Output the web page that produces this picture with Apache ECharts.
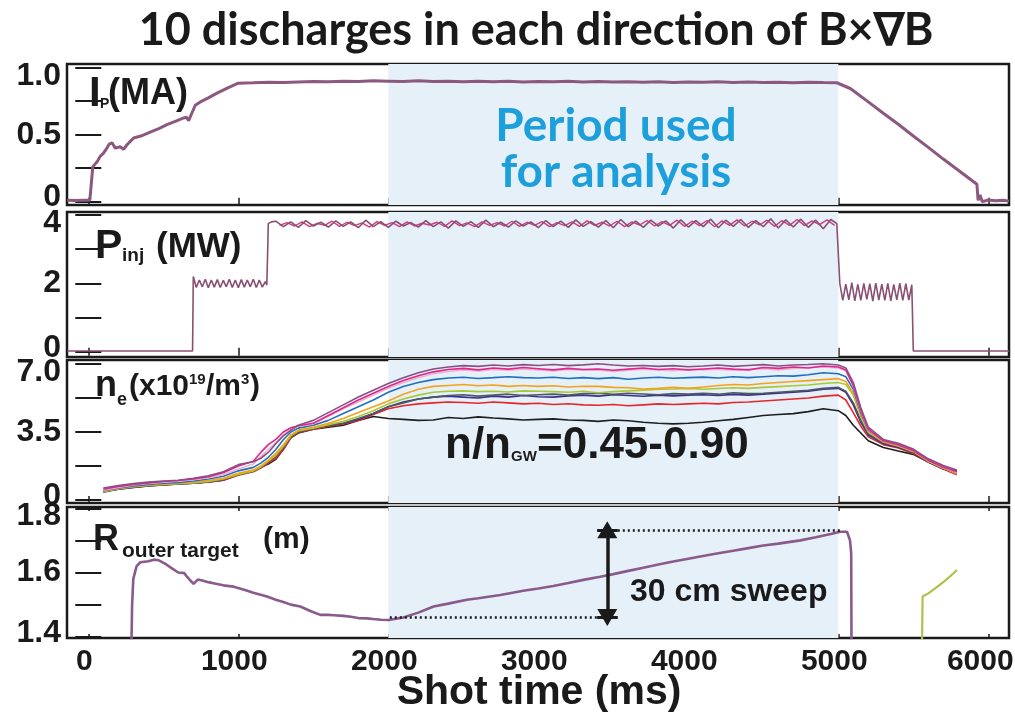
<!DOCTYPE html>
<html><head><meta charset="utf-8">
<script src="https://cdn.jsdelivr.net/npm/echarts@6/dist/echarts.min.js"></script>
<style>html,body{margin:0;padding:0;background:#fff}#c{width:1015px;height:724px}</style>
</head><body><div id="c"></div>
<script>
// ---------------- DATA ----------------
const timeTicks = [0, 1000, 2000, 3000, 4000, 5000, 6000];
const analysisPeriod = [2000, 5000];

// Plasma current Ip (MA)
const ipTime = [-140,-80,-20,10,22,30,45,60,80,100,124,140,158,180,213,235,258,280,302,350,413,470,524,580,636,655,669,690,713,747,800,858,930,1000,
1100,1200,1300,1400,1500,1600,1700,1800,1900,2000,
2100,2200,2300,2400,2500,2600,2700,2800,2900,3000,
3100,3200,3300,3400,3500,3600,3700,3800,3900,4000,
4100,4200,4300,4400,4500,4600,4700,4800,4900,
4990,5080,5200,5300,5400,5500,5600,5700,5800,5924,5932,5945,5960,6000,6050,6100,6138];
const ipVal = [0.01,0.008,0.01,0.01,0.02,0.26,0.28,0.30,0.34,0.36,0.40,0.43,0.44,0.40,0.41,0.39,0.425,0.45,0.475,0.49,0.52,0.545,0.575,0.60,0.625,0.63,0.605,0.66,0.72,0.745,0.775,0.81,0.85,0.885,
0.888,0.892,0.89,0.894,0.897,0.895,0.9,0.898,0.902,0.9,
0.898,0.902,0.897,0.9,0.895,0.899,0.896,0.9,0.894,0.897,
0.895,0.899,0.894,0.897,0.893,0.896,0.892,0.895,0.89,0.894,
0.891,0.895,0.89,0.893,0.889,0.892,0.888,0.891,0.889,
0.888,0.845,0.745,0.66,0.578,0.49,0.405,0.318,0.235,0.13,0.01,0.05,0.0,0.012,0.006,0.01,0.004];

// Injected power Pinj (MW): segments (times, values)
const pinjOffTime = [-140, 695];
const pinjOffVal = [0.02, 0.02];
const pinjLowStart = 700, pinjLowStep = 20;
const pinjLowVal = [2.2,1.88,2.1,1.9,2.12,1.87,2.1,1.89,2.11,1.88,2.09,1.9,2.12,1.88,2.1,1.87,2.11,1.89,2.1,1.9,2.12,1.88,2.1,1.89,2.05];
const pinjStepTime = [1190, 1195, 1200, 1220];
const pinjStepVal = [1.95, 2.8, 3.75, 3.8];
const pinjHighStart = 1250, pinjHighStep = 50;
const pinjHighVal = [3.82,3.66,3.8,3.64,3.84,3.68,3.79,3.65,3.83,3.67,
3.8,3.63,3.85,3.66,3.81,3.64,3.82,3.68,3.78,3.65,
3.84,3.66,3.8,3.62,3.83,3.67,3.81,3.64,3.85,3.66,
3.79,3.65,3.83,3.68,3.8,3.63,3.84,3.66,3.82,3.64,
3.86,3.67,3.81,3.65,3.84,3.63,3.87,3.66,3.82,3.64,
3.85,3.68,3.83,3.62,3.86,3.65,3.84,3.66,3.88,3.63,
3.85,3.67,3.87,3.64,3.84,3.66,3.89,3.62,3.86,3.65,
3.88,3.64,3.85,3.6,3.87];
// a second (overlapping) discharge on the 4 MW flat-top
const pinjHigh2Start = 1275, pinjHigh2Step = 50;
const pinjHigh2Val = [3.7,3.78,3.68,3.8,3.66,3.76,3.7,3.82,3.67,3.79,
3.69,3.77,3.65,3.81,3.7,3.78,3.66,3.8,3.68,3.76,
3.71,3.79,3.67,3.83,3.69,3.77,3.66,3.8,3.7,3.78,
3.68,3.82,3.67,3.79,3.7,3.81,3.66,3.78,3.69,3.8,
3.67,3.83,3.7,3.79,3.68,3.82,3.66,3.8,3.71,3.84,
3.68,3.81,3.7,3.85,3.67,3.82,3.69,3.84,3.66,3.83,
3.7,3.86,3.68,3.82,3.71,3.85,3.67,3.84,3.7,3.87,
3.69,3.83,3.72,3.86,3.7];
const pinjMidStart = 4990, pinjMidStep = 20;
const pinjMidVal = [3.75,2.0,1.5,1.98,1.52,2.02,1.49,1.97,1.5,2.0,1.53,1.99,1.48,2.01,1.51,1.98,1.5,2.0,1.49,1.97,1.52,2.01,1.5,1.99,1.51,1.96];
const pinjEndTime = [5500, 6138];
const pinjEndVal = [0.02, 0.02];

// Line-averaged density ne (1e19 m^-3), 10 discharges
const neTime = [100,200,300,400,500,600,700,800,900,1000,1100,1150,1200,1250,1300,1350,1400,
1500,1600,1700,1800,1900,2000,2100,2200,2300,2400,2500,2600,2700,2800,2900,3000,
3100,3200,3300,3400,3500,3600,3700,3800,3900,4000,4100,4200,4300,4400,4500,4600,4700,4800,4900,5000,
5050,5100,5150,5200,5300,5400,5500,5600,5700,5790];
const nePurple = [0.62,0.75,0.85,0.92,0.98,1.02,1.12,1.25,1.45,1.82,1.97, 2.15,2.45,2.9,3.3,3.6,3.85,
4.1,4.5,4.9,5.3,5.65,6.0, 6.3,6.55,6.75,6.85,6.92,6.88,6.95,6.9,6.97,6.93,
6.98,6.92,6.96,7.02,6.95,6.9,6.93,6.88,6.92,6.86, 6.9,6.95,6.88,6.93,6.97,6.9,6.95,6.98,7.02,6.95,
6.8,6.05,4.75,3.75, 3.12,2.92,2.62,2.12,1.78,1.55];
const neMagenta = [0.55,0.7,0.8,0.88,0.95,1.0,1.08,1.2,1.4,1.75,2.0, 2.45,2.85,3.12,3.5,3.72,3.82,
3.95,4.35,4.75,5.15,5.5,5.85, 6.15,6.4,6.6,6.72,6.78,6.7,6.8,6.74,6.82,6.76,
6.7,6.78,6.72,6.75,6.68,6.74,6.8,6.72,6.76,6.7, 6.75,6.8,6.74,6.7,6.82,6.78,6.85,6.8,6.9,6.85,
6.7,5.9,4.62,3.65, 3.05,2.85,2.55,2.05,1.7,1.45];
const nePink = [0.5,0.65,0.78,0.85,0.92,0.97,1.05,1.15,1.3,1.6,1.85, 2.25,2.6,2.95,3.35,3.62,3.8,
3.92,4.3,4.7,5.05,5.4,5.75, 6.05,6.3,6.5,6.62,6.7,6.65,6.72,6.68,6.75,6.7,
6.65,6.72,6.68,6.7,6.62,6.68,6.74,6.7,6.66,6.72, 6.7,6.74,6.68,6.72,6.76,6.7,6.78,6.82,6.85,6.8,
6.65,5.85,4.6,3.62, 3.05,2.85,2.55,2.05,1.7,1.42];
const neBlue = [0.48,0.62,0.72,0.8,0.86,0.9,0.98,1.08,1.22,1.5,1.68, 1.9,2.2,2.6,3.1,3.5,3.7,
3.85,4.1,4.45,4.8,5.15,5.55, 5.85,6.05,6.2,6.28,6.32,6.26,6.3,6.35,6.3,6.28,
6.32,6.26,6.3,6.25,6.3,6.22,6.28,6.32,6.27,6.3, 6.33,6.28,6.35,6.3,6.35,6.4,6.38,6.45,6.55,6.5,
6.35,5.7,4.5,3.6, 3.05,2.85,2.55,2.05,1.7,1.4];
const neOrange = [0.45,0.6,0.7,0.78,0.83,0.87,0.93,1.0,1.12,1.38,1.55, 1.75,2.05,2.4,2.85,3.35,3.6,
3.75,3.95,4.2,4.5,4.8,5.1, 5.45,5.7,5.85,5.9,5.95,5.88,5.92,5.85,5.9,5.85,
5.88,5.82,5.86,5.85,5.8,5.78,5.72,5.75,5.8,5.75, 5.82,5.9,5.95,5.92,6.0,6.05,6.1,6.15,6.2,6.25,
6.1,5.5,4.4,3.55, 3.0,2.8,2.5,2.0,1.65,1.35];
const neGreen = [0.42,0.58,0.68,0.75,0.8,0.84,0.88,0.95,1.08,1.32,1.5, 1.7,2.0,2.3,2.75,3.3,3.55,
3.7,3.88,4.05,4.3,4.6,4.95, 5.2,5.4,5.55,5.6,5.62,5.58,5.6,5.56,5.62,5.6,
5.58,5.55,5.6,5.52,5.58,5.62,5.66,5.7,5.72,5.75, 5.7,5.74,5.78,5.75,5.8,5.84,5.88,5.92,6.0,6.05,
5.95,5.4,4.3,3.5, 3.0,2.78,2.5,2.0,1.65,1.4];
const neSlate = [0.4,0.55,0.65,0.72,0.78,0.82,0.86,0.93,1.05,1.3,1.48, 1.68,1.95,2.25,2.7,3.25,3.5,
3.68,3.85,3.95,4.2,4.45,4.8, 5.0,5.2,5.3,5.38,5.42,5.35,5.4,5.45,5.38,5.42,
5.45,5.4,5.48,5.5,5.44,5.5,5.46,5.42,5.48,5.45, 5.5,5.45,5.52,5.48,5.5,5.55,5.6,5.65,5.75,5.8,
5.6,5.0,4.1,3.4, 2.95,2.75,2.45,1.98,1.62,1.35];
const neIndigo = [0.43,0.57,0.66,0.73,0.79,0.83,0.87,0.94,1.06,1.32,1.5, 1.7,1.98,2.28,2.72,3.28,3.52,
3.7,3.85,3.95,4.15,4.45,4.8, 5.05,5.2,5.3,5.35,5.3,5.25,5.35,5.3,5.38,5.32,
5.3,5.36,5.4,5.35,5.42,5.38,5.34,5.4,5.36,5.4, 5.42,5.38,5.44,5.4,5.45,5.5,5.55,5.6,5.7,5.75,
5.55,4.9,4.0,3.35, 2.9,2.72,2.45,1.96,1.6,1.45];
const neRed = [0.44,0.56,0.65,0.72,0.78,0.82,0.86,0.92,1.02,1.28,1.45, 1.65,1.9,2.15,2.6,3.2,3.48,
3.65,3.8,3.92,4.1,4.4,4.7, 4.85,4.95,5.0,5.05,5.02,4.98,5.05,5.0,4.95,4.98,
4.92,4.96,4.9,4.88,4.92,4.85,4.9,4.95,4.92,4.95, 4.98,4.95,5.02,5.05,5.1,5.15,5.2,5.25,5.35,5.4,
5.15,4.5,3.8,3.25, 2.85,2.68,2.4,1.95,1.6,1.3];
const neBlack = [0.45,0.58,0.67,0.74,0.8,0.84,0.88,0.93,1.02,1.3,1.5, 1.68,1.85,2.1,2.6,3.2,3.45,
3.65,3.75,3.85,4.1,4.3,4.2, 4.15,4.1,4.12,4.25,4.2,4.28,4.22,4.18,4.12,4.15,
4.18,4.12,4.1,4.05,4.12,4.08,4.0,3.95,3.92,3.95, 4.0,4.08,4.15,4.25,4.35,4.4,4.45,4.55,4.7,4.6,
4.35,3.85,3.45,3.05, 2.7,2.52,2.35,1.95,1.62,1.5];

// Outer strike point radius R (m)
const rTime = [288,292,300,322,347,400,436,470,520,560,600,640,658,680,702,730,760,800,850,900,969,1050,1100,1191,1250,1300,1350,1413,1480,1547,1600,1636,1700,1750,1800,1858,1900,1950,2002,2100,2200,2302,2400,2524,2600,2747,2900,3000,3100,3200,3300,3413,3500,3600,3700,3800,3900,4000,4080,4200,4300,4400,4500,4600,4747,4850,4950,5013,5058,5078,5086,5088];
const rVal = [1.38,1.50,1.58,1.62,1.632,1.635,1.64,1.638,1.625,1.612,1.60,1.598,1.587,1.575,1.565,1.578,1.575,1.57,1.565,1.56,1.556,1.545,1.537,1.525,1.515,1.508,1.5,1.494,1.48,1.468,1.468,1.467,1.465,1.462,1.458,1.457,1.455,1.453,1.452,1.46,1.475,1.494,1.503,1.515,1.52,1.53,1.543,1.55,1.558,1.567,1.577,1.587,1.595,1.605,1.615,1.625,1.634,1.643,1.65,1.66,1.668,1.676,1.684,1.69,1.70,1.71,1.72,1.727,1.727,1.70,1.66,1.38];
const r2Time = [5558,5562,5600,5650,5700,5750,5791];
const r2Val = [1.38,1.525,1.535,1.552,1.57,1.59,1.608];

// sweep annotation (data units)
const sweepLow = 1.46, sweepHigh = 1.733;
const sweepArrowTime = 3460;
const sweepLowSpan = [2010, 3392];
const sweepHighSpan = [3530, 5030];
const sweepBarSpan = [3392, 3530];

// axis ticks / labels
const ipTicks = [0, 0.25, 0.5, 0.75, 1.0], ipLabelVals = [0, 0.5, 1.0], ipLabelText = ['0', '0.5', '1.0'];
const pinjTicks = [0, 1, 2, 3, 4], pinjLabelVals = [0, 2, 4], pinjLabelText = ['0', '2', '4'];
const neTicks = [0, 1.75, 3.5, 5.25, 7], neLabelVals = [0, 3.5, 7], neLabelText = ['0', '3.5', '7.0'];
const rTicks = [1.4, 1.5, 1.6, 1.7, 1.8], rLabelVals = [1.4, 1.6, 1.8], rLabelText = ['1.4', '1.6', '1.8'];

// ---------------- BUILD ----------------
function zip(t, v) { return t.map((x, i) => [x, v[i]]); }
function seqData(start, step, vals) { return vals.map((v, i) => [start + i * step, v]); }

const pinjData = [].concat(
  zip(pinjOffTime, pinjOffVal),
  seqData(pinjLowStart, pinjLowStep, pinjLowVal),
  zip(pinjStepTime, pinjStepVal),
  seqData(pinjHighStart, pinjHighStep, pinjHighVal),
  seqData(pinjMidStart, pinjMidStep, pinjMidVal),
  zip(pinjEndTime, pinjEndVal)
);
const pinjData2 = seqData(pinjHigh2Start, pinjHigh2Step, pinjHigh2Val);

const ARIAL = '"Liberation Sans", Arial, Helvetica, sans-serif';
const LATO = 'Lato, "Open Sans", sans-serif';
const INK = '#1a1a1a';
const X_MIN = -142, X_MAX = 6138;

const panels = [
  { top: 64, height: 141, min: -0.025, max: 1.028, ticks: ipTicks, lv: ipLabelVals, lt: ipLabelText },
  { top: 212, height: 145, min: -0.155, max: 4.09, ticks: pinjTicks, lv: pinjLabelVals, lt: pinjLabelText },
  { top: 360, height: 143, min: -0.155, max: 7.21, ticks: neTicks, lv: neLabelVals, lt: neLabelText },
  { top: 507, height: 131, min: 1.396, max: 1.804, ticks: rTicks, lv: rLabelVals, lt: rLabelText }
];

const grid = [], xAxis = [], yAxis = [], series = [];
const tickStyle = { color: INK, width: 2 };
const xFont = { fontSize: 30, fontWeight: 'bold', fontFamily: ARIAL, color: INK };
panels.forEach((p, i) => {
  grid.push({ left: 67, right: 6, top: p.top, height: p.height, show: true, borderColor: INK, borderWidth: 2.5,
    backgroundColor: 'transparent', containLabel: false, outerBoundsMode: 'none' });
  const xBase = { gridIndex: i, type: 'value', min: X_MIN, max: X_MAX, axisLine: { show: false }, splitLine: { show: false },
    axisTick: { show: true, inside: true, length: 4, customValues: timeTicks, lineStyle: { color: INK, width: 1.5 } } };
  xAxis.push(Object.assign({}, xBase, { position: 'bottom',
    axisLabel: { show: i === 3, customValues: timeTicks, fontSize: 30, fontWeight: 'bold', fontFamily: ARIAL, color: INK, margin: 9,
      formatter: v => (v === timeTicks[timeTicks.length - 1] ? '{e|' : '{n|') + v + '}',
      rich: { n: Object.assign({ padding: [0, 8, 0, 0] }, xFont), e: Object.assign({ padding: [0, 16, 0, 0] }, xFont) } } }));
  xAxis.push(Object.assign({}, xBase, { position: 'top', axisLabel: { show: false } }));
  const yBase = { gridIndex: i, type: 'value', min: p.min, max: p.max, axisLine: { show: false }, splitLine: { show: false },
    axisTick: { show: true, inside: true, length: 13, customValues: p.ticks, lineStyle: tickStyle } };
  const fontRich = { fontSize: 32, fontWeight: 'bold', fontFamily: ARIAL, color: INK };
  yAxis.push(Object.assign({}, yBase, { position: 'left',
    axisLabel: { show: true, customValues: p.lv, margin: 6, fontSize: 32, fontWeight: 'bold', fontFamily: ARIAL, color: INK,
      formatter: v => {
        const k = p.lv.indexOf(v); const t = p.lt[k];
        if (k === p.lv.length - 1) return '{t|' + t + '}';
        if (k === 0) return '{b|' + t + '}';
        return '{m|' + t + '}';
      },
      rich: { t: Object.assign({ padding: [16, 0, 0, 0] }, fontRich), b: Object.assign({ padding: [0, 0, 8, 0] }, fontRich), m: Object.assign({}, fontRich) } } }));
  yAxis.push(Object.assign({}, yBase, { position: 'right', axisLabel: { show: false } }));
  // analysis-period shading
  series.push({ type: 'line', xAxisIndex: 2 * i, yAxisIndex: 2 * i, data: [], z: 1, silent: true,
    markArea: { silent: true, itemStyle: { color: '#e5f0f9' }, data: [[{ xAxis: analysisPeriod[0] }, { xAxis: analysisPeriod[1] }]] } });
});

function lineSeries(gi, data, color, width, z) {
  return { type: 'line', xAxisIndex: 2 * gi, yAxisIndex: 2 * gi, data: data, showSymbol: false, symbol: 'none',
    lineStyle: { color: color, width: width }, itemStyle: { color: color }, z: z || 3, silent: true, animation: false };
}

series.push(lineSeries(0, zip(ipTime, ipVal), '#8c587f', 3));
series.push(lineSeries(1, pinjData2, '#d23a86', 1.4, 2.9));
series.push(lineSeries(1, pinjData, '#8a5073', 1.6));

const neSets = [
  [neBlack, '#1e1e1e'], [neRed, '#e8262a'], [neIndigo, '#3b2f8f'], [neSlate, '#4d5860'], [neGreen, '#a6c935'],
  [neOrange, '#f5a21c'], [neBlue, '#1f6fc0'], [nePink, '#e9b3cf'], [neMagenta, '#e0258c'], [nePurple, '#8b4f82']
];
neSets.forEach(([vals, c], k) => series.push(lineSeries(2, zip(neTime, vals), c, 1.6, 3 + k * 0.01)));

series.push(lineSeries(3, zip(rTime, rVal), '#8a5a8c', 2.6));
series.push(lineSeries(3, zip(r2Time, r2Val), '#b2bf4a', 2.2));

// sweep annotation
series.push({ type: 'line', xAxisIndex: 6, yAxisIndex: 6, data: [], z: 5, silent: true,
  markLine: { silent: true, symbol: ['none', 'none'], label: { show: false }, animation: false,
    data: [
      [{ coord: [sweepLowSpan[0], sweepLow], lineStyle: { type: [2, 3], width: 2.5, color: INK } }, { coord: [sweepLowSpan[1], sweepLow] }],
      [{ coord: [sweepHighSpan[0], sweepHigh], lineStyle: { type: [2, 3], width: 2.5, color: INK } }, { coord: [sweepHighSpan[1], sweepHigh] }],
      [{ coord: [sweepBarSpan[0], sweepLow], lineStyle: { type: 'solid', width: 3, color: INK } }, { coord: [sweepBarSpan[1], sweepLow] }],
      [{ coord: [sweepBarSpan[0], sweepHigh], lineStyle: { type: 'solid', width: 3, color: INK } }, { coord: [sweepBarSpan[1], sweepHigh] }],
      [{ coord: [sweepArrowTime, sweepHigh], symbol: 'triangle', symbolSize: [20, 17], lineStyle: { type: 'solid', width: 3.5, color: INK } },
       { coord: [sweepArrowTime, sweepLow], symbol: 'triangle', symbolSize: [20, 17] }]
    ] } });

// ---------------- TEXT ----------------
function txt(text, x, y, size, opts) {
  opts = opts || {};
  const fam = opts.family || ARIAL;
  return { type: 'text', x: x, y: y, z: 100, silent: true,
    style: { text: text, fill: opts.color || INK, font: 'bold ' + size + 'px ' + fam,
      align: opts.align || 'left', verticalAlign: 'middle', textAlign: opts.align || 'left', textVerticalAlign: 'middle' } };
}
const graphic = [
  txt('10 discharges in each direction of B\u00d7\u2207B', 536, 30, 45, { family: LATO, align: 'center' }),
  txt('I', 89, 94, 42), txt('P', 100, 104, 14), txt('(MA)', 108, 94, 36),
  txt('P', 95, 247, 41), txt('inj', 122, 256, 19), txt('(MW)', 156, 247, 35),
  txt('n', 95, 386, 36), txt('e', 117, 400, 18), txt('(x10', 129, 387, 30), txt('19', 189, 380, 15),
  txt('/m', 206, 387, 30), txt('3', 241, 380, 15), txt(')', 250, 387, 30),
  txt('R', 93, 540, 36), txt('outer target', 122, 551, 21), txt('(m)', 263, 540, 30),
  txt('Period used', 616, 126, 46, { family: LATO, align: 'center', color: '#1c9fda' }),
  txt('for analysis', 616, 172, 46, { family: LATO, align: 'center', color: '#1c9fda' }),
  txt('n/n', 445, 446, 44), txt('GW', 511, 457, 15), txt('=0.45-0.90', 537, 446, 44),
  txt('30 cm sweep', 630, 592, 32),
  txt('Shot time (ms)', 539, 693, 41, { align: 'center' })
];

const chart = echarts.init(document.getElementById('c'), null, { renderer: 'canvas', width: 1015, height: 724 });
chart.setOption({ animation: false, backgroundColor: '#ffffff', grid, xAxis, yAxis, series, graphic });
</script></body></html>
